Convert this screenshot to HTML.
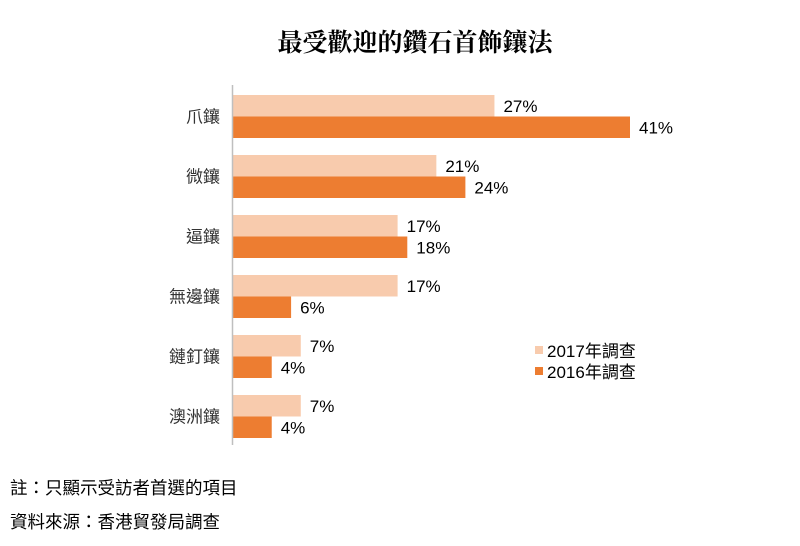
<!DOCTYPE html>
<html><head><meta charset="utf-8"><style>
body{margin:0;background:#fff;}
svg{display:block;font-family:"Liberation Sans","Noto Sans CJK TC",sans-serif;}
</style></head><body>
<svg width="800" height="546" viewBox="0 0 800 546">
<text x="415" y="51" text-anchor="middle" font-size="25" font-weight="bold" font-family="'Noto Serif CJK SC',serif" fill="#000">最受歡迎的鑽石首飾鑲法</text>
<g id="bars"></g>
<line x1="232.5" y1="85" x2="232.5" y2="445" stroke="#bfbfbf" stroke-width="1.5"/>
<g>
<rect x="535" y="346" width="8" height="8" fill="#F8CBAD"/>
<text x="547" y="357" font-size="17">2017年調查</text>
<rect x="535" y="367" width="8" height="8" fill="#ED7D31"/>
<text x="547" y="378" font-size="17">2016年調查</text>
</g>
<text x="10" y="494" font-size="17.5">註：只顯示受訪者首選的項目</text>
<text x="10" y="528" font-size="17.5">資料來源：香港貿發局調查</text>
</svg>
<script>
const categories=["爪鑲","微鑲","逼鑲","無邊鑲","鏈釘鑲","澳洲鑲"];
const values2017=[27,21,17,17,7,7];
const values2016=[41,24,18,6,4,4];
const x0=233, pxPer=(630-233)/41, top0=95, step=60, bh=21.5;
const xs=v=>x0+v*pxPer;
const g=document.getElementById('bars');
const NS="http://www.w3.org/2000/svg";
function mk(t,a){const e=document.createElementNS(NS,t);for(const k in a)e.setAttribute(k,a[k]);return e;}
categories.forEach((c,i)=>{
  const y=top0+i*step;
  const lab=mk('text',{x:220,y:y+bh+6,'text-anchor':'end','font-size':17,fill:'#333'});
  lab.textContent=c;
  
  
  g.appendChild(lab);
  [[values2017,'#F8CBAD',0],[values2016,'#ED7D31',1]].forEach(([arr,col,k])=>{
    const v=arr[i], yy=y+k*bh;
    const r=mk('rect',{x:x0,y:yy,width:xs(v)-x0,height:bh,fill:col});
    
    
    g.appendChild(r);
    const t=mk('text',{x:xs(v)+9,y:yy+bh/2+6,'font-size':17,fill:'#000'});
    t.textContent=v+'%';
    
    
    g.appendChild(t);
  });
});
</script>
</body></html>
